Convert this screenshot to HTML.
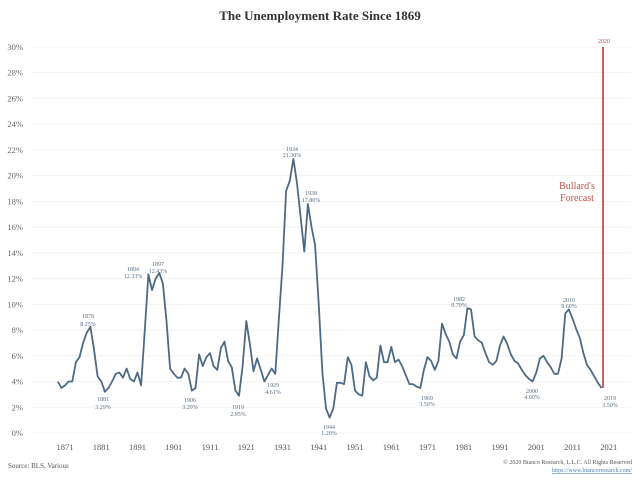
<!DOCTYPE html>
<html><head><meta charset="utf-8"><style>
body{margin:0;background:#fff;}
svg{display:block;font-family:"Liberation Serif",serif;}
</style></head><body>
<svg id="s" width="640" height="480" viewBox="0 0 640 480">
<text x="320" y="20" text-anchor="middle" font-size="13" font-weight="bold" fill="#333">The Unemployment Rate Since 1869</text>
<g id="grid"></g>
<path id="line" fill="none" stroke="#4d6a85" stroke-width="1.8" stroke-linejoin="round"/>
<line x1="603" y1="388" x2="603" y2="47" stroke="#c0504d" stroke-width="1.8"/>
<text x="604" y="43" font-size="6" fill="#c0504d" text-anchor="middle">2020</text>
<text x="577" y="189" font-size="10" fill="#c0504d" text-anchor="middle">Bullard's</text>
<text x="577" y="201" font-size="10" fill="#c0504d" text-anchor="middle">Forecast</text>
<g font-size="6" fill="#5a6e85" text-anchor="middle">
<text x="88" y="318">1878</text><text x="88" y="326">8.25%</text>
<text x="103" y="401">1881</text><text x="103" y="409">3.29%</text>
<text x="133" y="271">1894</text><text x="133" y="278">12.33%</text>
<text x="158" y="266">1897</text><text x="158" y="273">12.43%</text>
<text x="190" y="402">1906</text><text x="190" y="409">3.29%</text>
<text x="238" y="409">1919</text><text x="238" y="416">2.95%</text>
<text x="273" y="387">1929</text><text x="273" y="394">4.61%</text>
<text x="292" y="151">1934</text><text x="292" y="157">21.30%</text>
<text x="311" y="195">1938</text><text x="311" y="202">17.80%</text>
<text x="329" y="429">1944</text><text x="329" y="435">1.20%</text>
<text x="427" y="400">1969</text><text x="427" y="406">3.50%</text>
<text x="459" y="301">1982</text><text x="459" y="307">9.70%</text>
<text x="532" y="393">2000</text><text x="532" y="399">4.00%</text>
<text x="569" y="302">2010</text><text x="569" y="308">9.60%</text>
<text x="610" y="400">2019</text><text x="610" y="407">3.50%</text>
</g>
<text x="8" y="468" font-size="7" fill="#555">Source: BLS, Various</text>
<text x="632" y="464" font-size="6" fill="#555" text-anchor="end">© 2020 Bianco Research, L.L.C. All Rights Reserved</text>
<text x="632" y="472" font-size="6" fill="#4a7fb0" text-anchor="end" text-decoration="underline">https://www.biancoresearch.com/</text>
</svg>
<script>
var d=[4.0,3.5,3.7,4.0,4.0,5.5,5.9,7.0,7.8,8.25,6.5,4.4,4.0,3.2,3.5,4.0,4.6,4.7,4.3,5.0,4.2,4.0,4.7,3.7,8.0,12.33,11.1,12.0,12.43,11.6,8.7,5.0,4.6,4.3,4.3,5.0,4.6,3.29,3.5,6.1,5.2,5.9,6.2,5.2,4.9,6.6,7.1,5.6,5.1,3.3,2.9,5.2,8.7,6.9,4.8,5.8,4.9,4.0,4.5,5.0,4.6,8.9,13,18.8,19.6,21.3,19.4,16.8,14.1,17.8,16,14.6,9.9,4.7,1.9,1.2,1.9,3.9,3.9,3.8,5.9,5.3,3.3,3.0,2.9,5.5,4.4,4.1,4.3,6.8,5.5,5.5,6.7,5.5,5.7,5.2,4.5,3.8,3.8,3.6,3.5,4.9,5.9,5.6,4.9,5.6,8.5,7.7,7.1,6.1,5.8,7.1,7.6,9.7,9.6,7.5,7.2,7.0,6.2,5.5,5.3,5.6,6.8,7.5,6.9,6.1,5.6,5.4,4.9,4.5,4.2,4.0,4.7,5.8,6.0,5.5,5.1,4.6,4.6,5.8,9.3,9.6,8.9,8.1,7.4,6.2,5.3,4.9,4.4,3.9,3.5];
function X(y){return 65+(y-1871)*3.625}function Y(v){return 433-12.87*v}
var p="";d.forEach(function(v,i){p+=(i?"L":"M")+X(1869+i).toFixed(1)+","+Y(v).toFixed(1)});
document.getElementById("line").setAttribute("d",p);
var g="",ns="";
for(var v=0;v<=30;v+=2){var y=Y(v);g+='<line x1="30" x2="630" y1="'+y+'" y2="'+y+'" stroke="#f0f0f0" stroke-width="0.8"/><text x="23" y="'+(y+3)+'" font-size="8.5" fill="#666" text-anchor="end">'+v+'%</text>';}
for(var yr=1871;yr<=2021;yr+=10){g+='<text x="'+X(yr)+'" y="450" font-size="8.5" fill="#555" text-anchor="middle">'+yr+'</text>';}
document.getElementById("grid").innerHTML=g;
</script>
</body></html>
